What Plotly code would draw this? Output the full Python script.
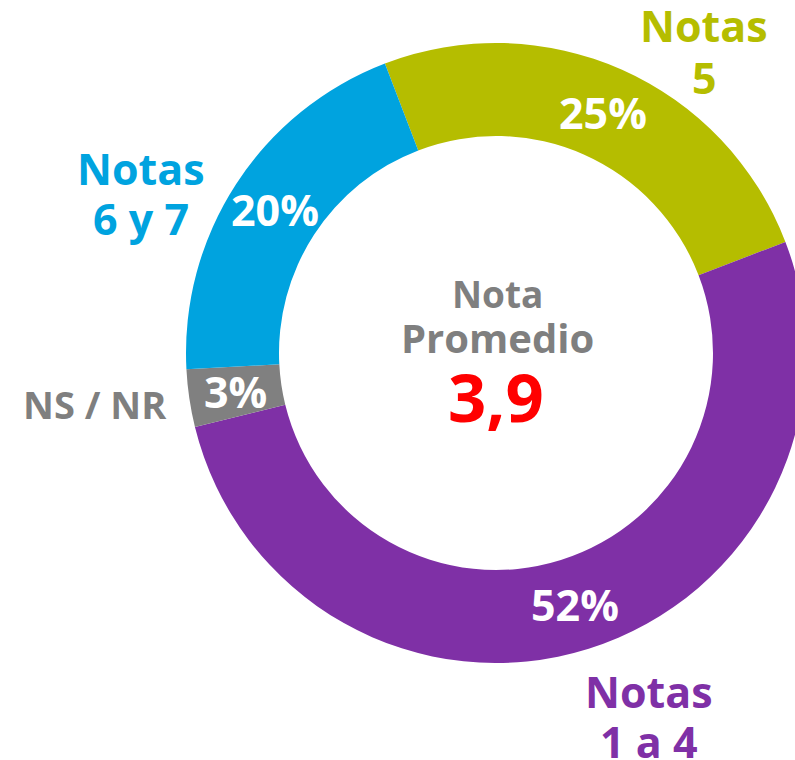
import math
import plotly.graph_objects as go

# ---- data ----
categories = ["Notas 5", "Notas 1 a 4", "NS / NR", "Notas 6 y 7"]
values = [25, 52, 3, 20]
slice_colors = ["#B5BD00", "#7F30A6", "#808080", "#00A3DF"]

label_lines = [["Notas", "5"], ["Notas", "1 a 4"], ["NS / NR"], ["Notas", "6 y 7"]]
center_title = ["Nota", "Promedio"]
center_value = "3,9"

W, H = 810, 760
FONT = "Open Sans"
ROTATION = -21
HOLE = 0.70
CX, CY, R = 496, 353, 310  # pie centre / radius in pixels

fig = go.Figure()
fig.add_trace(go.Pie(
    labels=categories,
    values=values,
    sort=False,
    direction="clockwise",
    rotation=ROTATION,
    hole=HOLE,
    marker=dict(colors=slice_colors, line=dict(width=0)),
    textinfo="none",
    showlegend=False,
    hoverinfo="label+percent",
    domain=dict(x=[(CX - R) / W, (CX + R) / W], y=[1 - (CY + R) / H, 1 - (CY - R) / H]),
))

def px(x, y):
    return x / W, 1 - y / H

annots = []

# percentage labels at the middle of each ring slice (derived from the values)
total = sum(values)
cum = 0
r_mid = R * (1 + HOLE) / 2
for v in values:
    theta = math.radians(ROTATION + (cum + v / 2) / total * 360)
    cum += v
    ax, ay = px(CX + r_mid * math.sin(theta), CY - r_mid * math.cos(theta))
    annots.append(dict(x=ax, y=ay, xref="paper", yref="paper",
                       text=f"{round(v / total * 100)}%",
                       showarrow=False, xanchor="center", yanchor="middle",
                       font=dict(family=FONT, size=43, color="white", weight=700)))

# outside labels: (lines, color, x center, y of each line, size)
label_specs = [
    (label_lines[0], slice_colors[0], 704, [26, 77], 43),
    (label_lines[1], slice_colors[1], 649, [691, 741], 43),
    (label_lines[2], "#7F7F7F", 95, [404], 38),
    (label_lines[3], slice_colors[3], 141, [169, 218], 43),
]
for lines, col, xc, ys, sz in label_specs:
    for line, yy in zip(lines, ys):
        ax, ay = px(xc, yy)
        annots.append(dict(x=ax, y=ay, xref="paper", yref="paper", text=line,
                           showarrow=False, xanchor="center", yanchor="middle",
                           font=dict(family=FONT, size=sz, color=col, weight=700)))

for line, yy, sz in zip(center_title, [293, 338], [37, 40]):
    ax, ay = px(497, yy)
    annots.append(dict(x=ax, y=ay, xref="paper", yref="paper", text=line,
                       showarrow=False, xanchor="center", yanchor="middle",
                       font=dict(family=FONT, size=sz, color="#7F7F7F", weight=700)))
ax, ay = px(496, 396)
annots.append(dict(x=ax, y=ay, xref="paper", yref="paper", text=center_value,
                   showarrow=False, xanchor="center", yanchor="middle",
                   font=dict(family=FONT, size=67, color="#FF0000", weight=700)))

fig.update_layout(
    width=W, height=H,
    margin=dict(l=0, r=0, t=0, b=0),
    paper_bgcolor="white", plot_bgcolor="white",
    annotations=annots,
)

fig.write_html("out.html",
               config={"displayModeBar": False},
               post_script="document.body.style.margin='0';document.body.style.overflow='hidden';")
